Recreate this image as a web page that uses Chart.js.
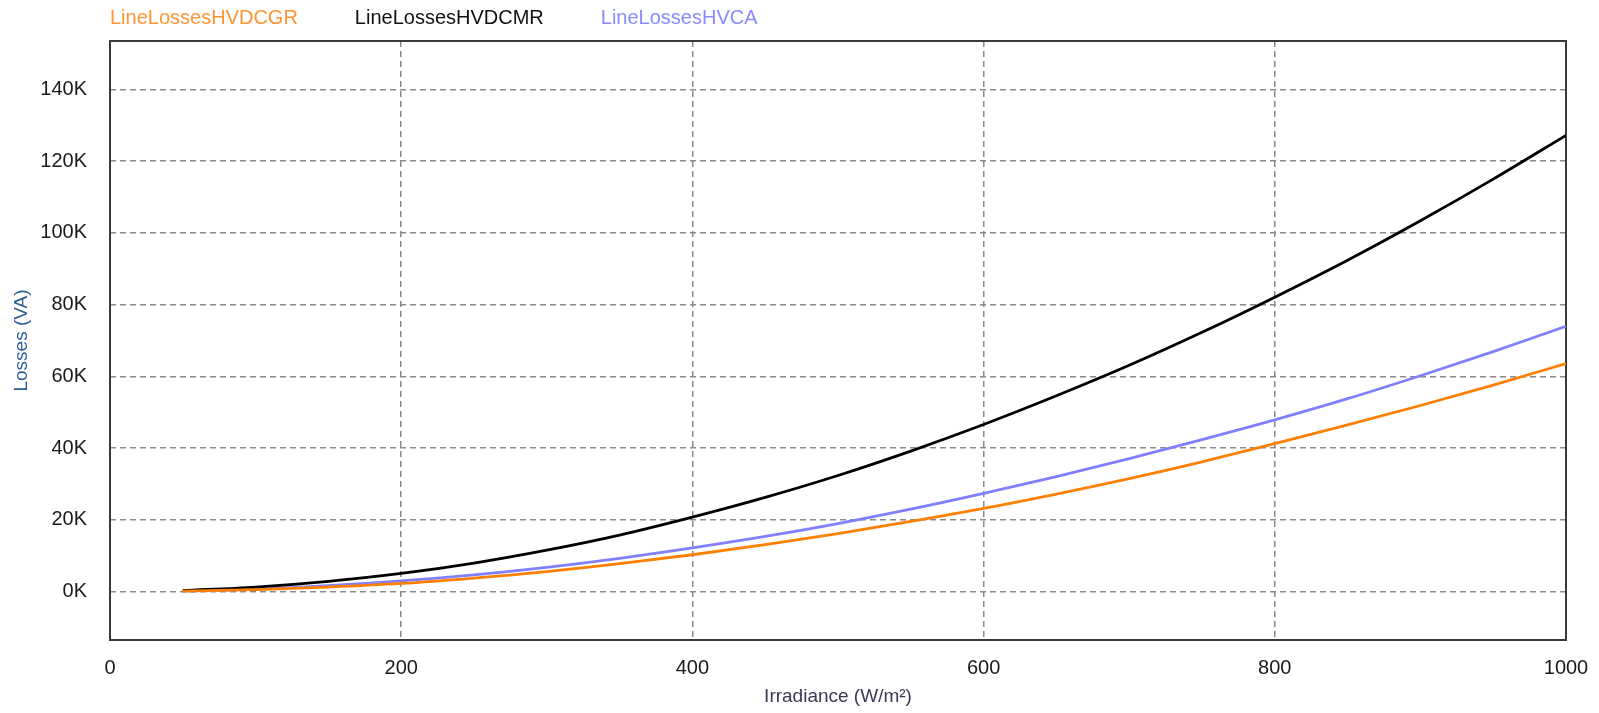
<!DOCTYPE html>
<html>
<head>
<meta charset="utf-8">
<script src="https://cdn.jsdelivr.net/npm/chart.js@4/dist/chart.umd.min.js"></script>
<style>
  html, body { margin: 0; padding: 0; background: #ffffff; }
  #wrap { width: 1599px; height: 713px; }
</style>
</head>
<body>
<div id="wrap"><canvas id="c" width="1599" height="713"></canvas></div>
<script>
// Irradiance (W/m²) sample positions
const irradiance = [50, 100, 150, 200, 250, 300, 350, 400, 450, 500, 550, 600, 650, 700, 750, 800, 850, 900, 950, 1000];
// Losses (VA)
const lossesHVDCGR = [150, 600, 1300, 2300, 3800, 5600, 7800, 10300, 13100, 16200, 19600, 23200, 27200, 31500, 36200, 41300, 46500, 51900, 57600, 63600];
const lossesHVDCMR = [300, 1300, 2900, 5100, 8000, 11600, 15800, 20800, 26300, 32400, 39200, 46600, 54600, 63100, 72300, 82100, 92400, 103400, 115000, 127200];
const lossesHVCA   = [200, 750, 1700, 3000, 4700, 6800, 9300, 12200, 15400, 19000, 23000, 27400, 32100, 37100, 42400, 47900, 53800, 60200, 66900, 74000];
const seriesNames  = ['LineLossesHVDCGR', 'LineLossesHVDCMR', 'LineLossesHVCA'];
const yTickValues  = [0, 20000, 40000, 60000, 80000, 100000, 120000, 140000];
const xTickValues  = [0, 200, 400, 600, 800, 1000];

const FONT = "'Liberation Sans', Arial, sans-serif";
const toPoints = (ys) => irradiance.map((x, i) => ({ x: x, y: ys[i] }));

const framePlugin = {
  id: 'frame',
  beforeDatasetsDraw(chart) {
    const { ctx, chartArea: a } = chart;
    ctx.save();
    ctx.strokeStyle = '#3a3a3a';
    ctx.lineWidth = 2;
    ctx.strokeRect(a.left, a.top, a.right - a.left, a.bottom - a.top);
    ctx.restore();
  }
};

const textLegendPlugin = {
  id: 'textLegend',
  afterDraw(chart) {
    const { ctx, chartArea: a } = chart;
    ctx.save();
    ctx.font = '20px ' + FONT;
    ctx.textBaseline = 'alphabetic';
    ctx.textAlign = 'left';
    let x = a.left;
    chart.data.datasets.forEach((ds) => {
      ctx.fillStyle = ds.legendColor || ds.borderColor;
      ctx.fillText(ds.label, x, 24);
      x += ctx.measureText(ds.label).width + 57;
    });
    ctx.restore();
  }
};

new Chart(document.getElementById('c'), {
  type: 'scatter',
  data: {
    datasets: [
      { label: seriesNames[0], data: toPoints(lossesHVDCGR), borderColor: '#ff8000', legendColor: '#ff9433', showLine: true, borderWidth: 2.8, pointRadius: 0, cubicInterpolationMode: 'monotone' },
      { label: seriesNames[1], data: toPoints(lossesHVDCMR), borderColor: '#000000', legendColor: '#111111', showLine: true, borderWidth: 2.8, pointRadius: 0, cubicInterpolationMode: 'monotone' },
      { label: seriesNames[2], data: toPoints(lossesHVCA),   borderColor: '#8080ff', legendColor: '#8a8aff', showLine: true, borderWidth: 2.8, pointRadius: 0, cubicInterpolationMode: 'monotone' }
    ]
  },
  options: {
    responsive: false,
    animation: false,
    devicePixelRatio: 1,
    layout: { padding: { top: 41, right: 33, bottom: 0, left: 0 } },
    plugins: {
      legend: { display: false },
      tooltip: { enabled: false }
    },
    scales: {
      x: {
        type: 'linear',
        min: 0,
        max: 1000,
        afterBuildTicks: (scale) => { scale.ticks = xTickValues.map(v => ({ value: v })); },
        afterFit: (scale) => { scale.height = 73; },
        ticks: {
          color: '#1a1a1a',
          font: { family: FONT, size: 20 },
          padding: 0,
          maxRotation: 0,
          autoSkip: false,
          callback: (v) => String(v)
        },
        grid: { color: '#8a8a8a', lineWidth: 1.5, drawTicks: true, tickLength: 16, tickColor: 'rgba(0,0,0,0)' },
        border: { display: false, dash: [6, 4] },
        title: {
          display: true,
          text: 'Irradiance (W/m²)',
          color: '#3a3a55',
          font: { family: FONT, size: 19 },
          padding: { top: 0, bottom: 5 }
        }
      },
      y: {
        type: 'linear',
        min: -13460,
        max: 153500,
        afterBuildTicks: (scale) => { scale.ticks = yTickValues.map(v => ({ value: v })); },
        afterFit: (scale) => { scale.width = 110; },
        ticks: {
          color: '#1a1a1a',
          font: { family: FONT, size: 20 },
          padding: 23,
          callback: (v) => (v / 1000) + 'K'
        },
        grid: { color: '#8a8a8a', lineWidth: 1.5, drawTicks: false },
        border: { display: false, dash: [6, 4] },
        title: {
          display: true,
          text: 'Losses (VA)',
          color: '#2e5e96',
          font: { family: FONT, size: 19 },
          padding: { top: 10, bottom: 0 }
        }
      }
    }
  },
  plugins: [framePlugin, textLegendPlugin]
});
</script>
</body>
</html>
